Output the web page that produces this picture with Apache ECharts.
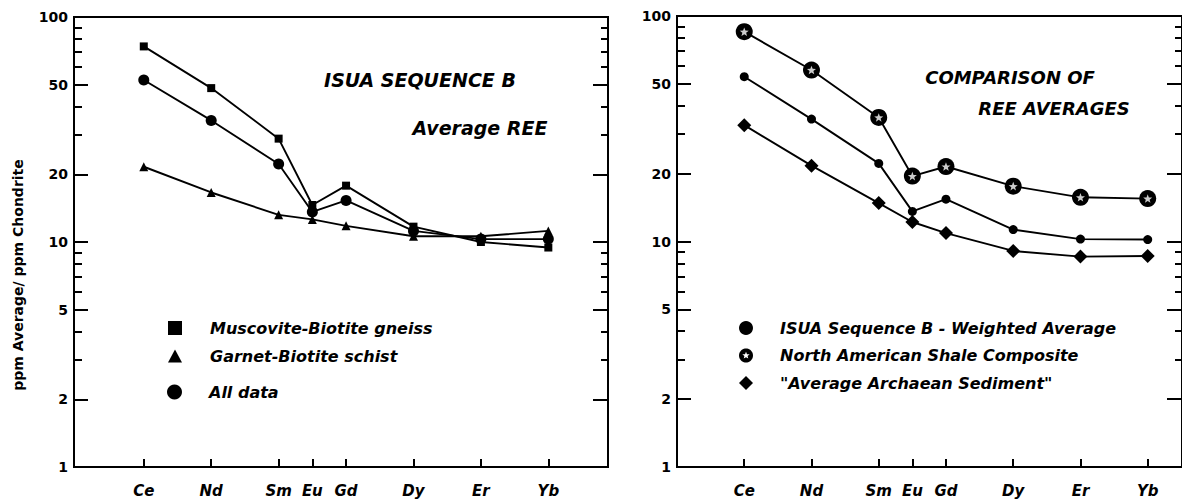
<!DOCTYPE html>
<html><head><meta charset="utf-8">
<script src="https://cdn.jsdelivr.net/npm/echarts@6/dist/echarts.min.js"></script>
<style>html,body{margin:0;padding:0;background:#fff}#c{width:1182px;height:502px}</style>
</head><body><div id="c"></div>
<script>
// ---- data ----
const elements = ['Ce','Nd','Sm','Eu','Gd','Dy','Er','Yb'];
const atomicNumbers = [58,60,62,63,64,66,68,70];
const muscoviteBiotiteGneiss = [74, 48.3, 28.8, 14.6, 17.8, 11.7, 10.0, 9.45];
const garnetBiotiteSchist   = [21.6, 16.6, 13.2, 12.6, 11.8, 10.6, 10.6, 11.2];
const allData               = [52.5, 34.7, 22.2, 13.6, 15.3, 11.2, 10.3, 10.3];
const isuaWeighted          = [53.8, 34.9, 22.2, 13.6, 15.4, 11.3, 10.25, 10.2];
const nasc                  = [85.2, 57.6, 35.5, 19.5, 21.5, 17.6, 15.7, 15.5];
const archaean              = [32.8, 21.7, 14.8, 12.2, 10.9, 9.08, 8.57, 8.63];
const yMajorTicks = [1,2,5,10,20,50,100];
const yMinorTicks = [3,4,6,7,8,9,30,40,60,70,80,90];

// ---- shapes ----
function ptsPath(pts){ return 'M' + pts.map(p => p[0].toFixed(2)+' '+p[1].toFixed(2)).join(' L') + ' Z'; }
function circlePts(r, n, dir){ const a=[]; for(let i=0;i<n;i++){ const t = dir*2*Math.PI*i/n; a.push([r*Math.cos(t), r*Math.sin(t)]);} return a; }
function starPts(R, r, dir){ const a=[]; for(let i=0;i<10;i++){ const t = -Math.PI/2 + dir*i*Math.PI/5; const rr = i%2===0?R:r; a.push([rr*Math.cos(t), rr*Math.sin(t)]);} return a; }
const starSymbol = 'path://' + ptsPath(starPts(10, 4.2, 1));
const nascIcon = 'path://' + ptsPath(circlePts(10, 40, 1)) + ' ' + ptsPath(starPts(5.5, 2.4, -1));

const pairs = vals => atomicNumbers.map((z,i) => [z, vals[i]]);
const FONT = 'DejaVu Sans';
const BLACK = '#000';

function xAxis(gridIndex, min, max){
  return {type:'value', gridIndex, min, max, splitLine:{show:false},
    axisLine:{show:true, onZero:false, lineStyle:{color:BLACK, width:2}},
    axisTick:{show:true, inside:true, length:8, customValues: atomicNumbers, lineStyle:{color:BLACK, width:2}},
    axisLabel:{customValues: atomicNumbers, formatter: v => elements[atomicNumbers.indexOf(Math.round(v))] || '',
      margin:16, color:BLACK, fontFamily:FONT, fontStyle:'italic', fontWeight:'bold', fontSize:15}};
}
function yAxes(gridIndex){
  const base = {type:'log', logBase:10, min:1, max:100, gridIndex, splitLine:{show:false},
    axisLine:{show:true, onZero:false, lineStyle:{color:BLACK, width:2}}};
  const tick = (len, vals) => ({show:true, inside:true, length:len, customValues: vals, lineStyle:{color:BLACK, width:2}});
  return [
    Object.assign({}, base, {position:'left', axisTick: tick(14, yMajorTicks),
      axisLabel:{show:true, customValues: yMajorTicks, formatter: v => String(+(+v).toPrecision(3)),
        margin:6, color:BLACK, fontFamily:FONT, fontWeight:'bold', fontSize:14}}),
    Object.assign({}, base, {position:'left', axisTick: tick(8, yMinorTicks), axisLabel:{show:false}}),
    Object.assign({}, base, {position:'right', axisTick: tick(15, yMajorTicks), axisLabel:{show:false}}),
    Object.assign({}, base, {position:'right', axisTick: tick(7, yMinorTicks), axisLabel:{show:false}})
  ];
}
function lineSeries(name, vals, xi, yi, symbol, size){
  return {name, type:'line', xAxisIndex:xi, yAxisIndex:yi, data: pairs(vals), symbol, symbolSize:size,
    color:BLACK, itemStyle:{color:BLACK}, lineStyle:{color:BLACK, width:1.9}, showSymbol:true, animation:false, z:3};
}
const legendText = (padLeft) => ({color:BLACK, fontFamily:FONT, fontStyle:'italic', fontWeight:'bold', fontSize:16, lineHeight:14, padding:[0,0,0,padLeft]});
const legendBase = {padding:0, itemWidth:14, itemHeight:14, selectedMode:false, orient:'vertical', symbolKeepAspect:true};

const chart = echarts.init(document.getElementById('c'), null, {renderer:'svg'});
chart.setOption({
  animation:false,
  backgroundColor:'#fff',
  grid:[
    {left:74, top:17, width:534, height:450, show:true, borderColor:BLACK, borderWidth:2, containLabel:false},
    {left:677, top:16, width:510, height:451, show:true, borderColor:BLACK, borderWidth:2, containLabel:false}
  ],
  xAxis:[ xAxis(0, 55.93, 71.77), xAxis(1, 56, 71.02) ],
  yAxis:[ ...yAxes(0), ...yAxes(1) ],
  legend:[
    Object.assign({}, legendBase, {left:168, top:320, textStyle:legendText(23), data:[{name:'Muscovite-Biotite gneiss', icon:'rect'}]}),
    Object.assign({}, legendBase, {left:168, top:348, itemHeight:13, textStyle:legendText(23), data:[{name:'Garnet-Biotite schist', icon:'triangle'}]}),
    Object.assign({}, legendBase, {left:167, top:384, itemWidth:15, itemHeight:15, textStyle:legendText(22), data:[{name:'All data', icon:'circle'}]}),
    Object.assign({}, legendBase, {left:739, top:320, itemGap:11.5, textStyle:legendText(22), data:[
      {name:'ISUA Sequence B - Weighted Average', icon:'circle'},
      {name:'North American Shale Composite', icon:nascIcon},
      {name:'"Average Archaean Sediment"', icon:'diamond'}]})
  ],
  series:[
    lineSeries('Muscovite-Biotite gneiss', muscoviteBiotiteGneiss, 0, 0, 'rect', 8),
    lineSeries('Garnet-Biotite schist', garnetBiotiteSchist, 0, 0, 'triangle', 9),
    lineSeries('All data', allData, 0, 0, 'circle', 11),
    lineSeries('ISUA Sequence B - Weighted Average', isuaWeighted, 1, 4, 'circle', 9),
    lineSeries('North American Shale Composite', nasc, 1, 4, 'circle', 17),
    {name:'nasc-star', type:'scatter', xAxisIndex:1, yAxisIndex:4, data: pairs(nasc), symbol: starSymbol,
      symbolSize:9, symbolKeepAspect:true, itemStyle:{color:'#fff'}, silent:true, z:5, animation:false},
    lineSeries('"Average Archaean Sediment"', archaean, 1, 4, 'diamond', 14)
  ],
  graphic:[
    {type:'text', x:18, y:275, rotation:Math.PI/2, style:{text:'ppm Average/ ppm Chondrite', fill:BLACK,
      fontFamily:FONT, fontWeight:'bold', fontSize:14, align:'center', verticalAlign:'middle'}},
    {type:'text', x:420, y:80, style:{text:'ISUA SEQUENCE B', fill:BLACK, fontFamily:FONT, fontStyle:'italic', fontWeight:'bold', fontSize:19, align:'center', verticalAlign:'middle'}},
    {type:'text', x:480, y:128, style:{text:'Average REE', fill:BLACK, fontFamily:FONT, fontStyle:'italic', fontWeight:'bold', fontSize:19, align:'center', verticalAlign:'middle'}},
    {type:'text', x:1010, y:77, style:{text:'COMPARISON OF', fill:BLACK, fontFamily:FONT, fontStyle:'italic', fontWeight:'bold', fontSize:18, align:'center', verticalAlign:'middle'}},
    {type:'text', x:1054, y:108, style:{text:'REE AVERAGES', fill:BLACK, fontFamily:FONT, fontStyle:'italic', fontWeight:'bold', fontSize:18, align:'center', verticalAlign:'middle'}}
  ]
});
</script>
</body></html>
